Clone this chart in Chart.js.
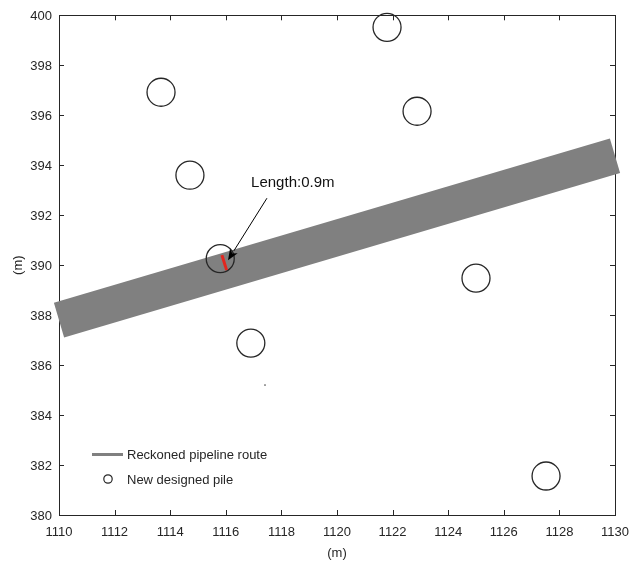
<!DOCTYPE html>
<html><head><meta charset="utf-8">
<script src="https://cdn.jsdelivr.net/npm/chart.js@4/dist/chart.umd.min.js"></script>
<style>html,body{margin:0;padding:0;background:#fff}</style>
</head><body>
<canvas id="c" width="631" height="561" style="width:631px;height:561px;display:block"></canvas>
<script>
// ---- data ----
const xTicks = [1110,1112,1114,1116,1118,1120,1122,1124,1126,1128,1130];
const yTicks = [380,382,384,386,388,390,392,394,396,398,400];
const pipelineX = [1110, 1130];
const pipelineY = [387.8, 394.38];
const pileX = [1113.67, 1121.80, 1122.88, 1114.71, 1115.80, 1125.00, 1116.90, 1127.52];
const pileY = [396.92, 399.52, 396.16, 393.60, 390.26, 389.48, 386.88, 381.56];
const cutX = [1115.86, 1116.03];
const cutY = [390.40, 389.80];
const strayX = [1117.41];
const strayY = [385.20];
const annoText = 'Length:0.9m';
const annoTextPos = [1116.91, 393.28];
const arrowFrom = [1117.48, 392.68];
const arrowTo = [1116.08, 390.20];
const legendLabels = ['Reckoned pipeline route', 'New designed pile'];
const axisTitle = '(m)';

const FONT = '"Liberation Sans", Arial, Helvetica, sans-serif';
const INK = '#262626';
const zip = (xs, ys) => xs.map((x, i) => ({x, y: ys[i]}));

const boxPlugin = {
  id: 'box',
  beforeDatasetsDraw(chart) {
    const {ctx, chartArea: a, scales: {x, y}} = chart;
    ctx.save();
    ctx.strokeStyle = INK; ctx.lineWidth = 1;
    ctx.strokeRect(Math.round(a.left)+0.5, Math.round(a.top)+0.5, Math.round(a.right-a.left), Math.round(a.bottom-a.top));
    const tl = 5;
    ctx.beginPath();
    xTicks.forEach(v => {
      const px = Math.round(x.getPixelForValue(v)) + 0.5;
      ctx.moveTo(px, a.bottom); ctx.lineTo(px, a.bottom - tl);
      ctx.moveTo(px, a.top); ctx.lineTo(px, a.top + tl);
    });
    yTicks.forEach(v => {
      const py = Math.round(y.getPixelForValue(v)) + 0.5;
      ctx.moveTo(a.left, py); ctx.lineTo(a.left + tl, py);
      ctx.moveTo(a.right, py); ctx.lineTo(a.right - tl, py);
    });
    ctx.stroke();
    ctx.restore();
  },
  afterDraw(chart) {
    const {ctx, scales: {x, y}} = chart;
    ctx.save();
    // annotation arrow
    const x0 = x.getPixelForValue(arrowFrom[0]), y0 = y.getPixelForValue(arrowFrom[1]);
    const x1 = x.getPixelForValue(arrowTo[0]), y1 = y.getPixelForValue(arrowTo[1]);
    const ang = Math.atan2(y1 - y0, x1 - x0);
    const hl = 11, hw = 4.5;
    const bx = x1 - hl * Math.cos(ang), by = y1 - hl * Math.sin(ang);
    ctx.strokeStyle = '#000'; ctx.fillStyle = '#000'; ctx.lineWidth = 1;
    ctx.beginPath(); ctx.moveTo(x0, y0); ctx.lineTo(bx, by); ctx.stroke();
    ctx.beginPath();
    ctx.moveTo(x1, y1);
    ctx.lineTo(bx + hw * Math.sin(ang), by - hw * Math.cos(ang));
    ctx.lineTo(bx + 3 * Math.cos(ang), by + 3 * Math.sin(ang));
    ctx.lineTo(bx - hw * Math.sin(ang), by + hw * Math.cos(ang));
    ctx.closePath(); ctx.fill();
    // annotation text
    ctx.font = '15px ' + FONT; ctx.fillStyle = '#111';
    ctx.textAlign = 'left'; ctx.textBaseline = 'middle';
    ctx.fillText(annoText, x.getPixelForValue(annoTextPos[0]), y.getPixelForValue(annoTextPos[1]));
    // legend
    const a = chart.chartArea;
    ctx.font = '13px ' + FONT; ctx.fillStyle = INK;
    ctx.strokeStyle = '#808080'; ctx.lineWidth = 3;
    ctx.beginPath(); ctx.moveTo(a.left + 33, 454.5); ctx.lineTo(a.left + 64, 454.5); ctx.stroke();
    ctx.fillText(legendLabels[0], a.left + 68, 455);
    ctx.strokeStyle = INK; ctx.lineWidth = 1.2;
    ctx.beginPath(); ctx.arc(a.left + 49, 479, 4.2, 0, Math.PI * 2); ctx.stroke();
    ctx.fillText(legendLabels[1], a.left + 68, 480);
    ctx.restore();
  }
};

new Chart(document.getElementById('c'), {
  type: 'scatter',
  data: {
    datasets: [
      { label: 'cut', data: zip(cutX, cutY), showLine: true, borderColor: '#e3261f', borderWidth: 3,
        borderCapStyle: 'butt', pointRadius: 0, clip: false, order: 1 },
      { label: legendLabels[1], data: zip(pileX, pileY), pointRadius: 14, pointHoverRadius: 14,
        pointStyle: 'circle', borderColor: INK, borderWidth: 1.3, backgroundColor: 'rgba(0,0,0,0)',
        clip: false, order: 2 },
      { label: 'stray', data: zip(strayX, strayY), pointRadius: 0.8, borderWidth: 0,
        backgroundColor: '#444', order: 2 },
      { label: legendLabels[0], data: zip(pipelineX, pipelineY), showLine: true, borderColor: '#808080',
        borderWidth: 36, borderCapStyle: 'butt', pointRadius: 0, clip: false, order: 3 }
    ]
  },
  options: {
    responsive: false, animation: false, devicePixelRatio: 1,
    layout: { padding: { left: 0, top: 15, right: 16, bottom: 0 } },
    plugins: { legend: { display: false }, tooltip: { enabled: false } },
    events: [],
    scales: {
      x: {
        type: 'linear', min: 1110, max: 1130,
        afterBuildTicks: s => { s.ticks = xTicks.map(v => ({value: v})); },
        afterFit: s => { s.height = 46; s.paddingLeft = 0; s.paddingRight = 0; },
        grid: { display: false, drawTicks: false }, border: { display: false },
        ticks: { color: INK, font: { size: 13, family: FONT }, padding: 10, maxRotation: 0, autoSkip: false,
                 callback: v => String(v) },
        title: { display: true, text: axisTitle, color: INK, font: { size: 13, family: FONT }, padding: { top: 0, bottom: 0 } }
      },
      y: {
        type: 'linear', min: 380, max: 400,
        afterBuildTicks: s => { s.ticks = yTicks.map(v => ({value: v})); },
        afterFit: s => { s.width = 59; s.paddingTop = 0; s.paddingBottom = 0; },
        grid: { display: false, drawTicks: false }, border: { display: false },
        ticks: { color: INK, font: { size: 13, family: FONT }, padding: 7, autoSkip: false, labelOffset: 1.5,
                 callback: v => String(v) },
        title: { display: true, text: axisTitle, color: INK, font: { size: 13, family: FONT }, padding: { top: 11, bottom: 0 } }
      }
    }
  },
  plugins: [boxPlugin]
});
</script>
</body></html>
